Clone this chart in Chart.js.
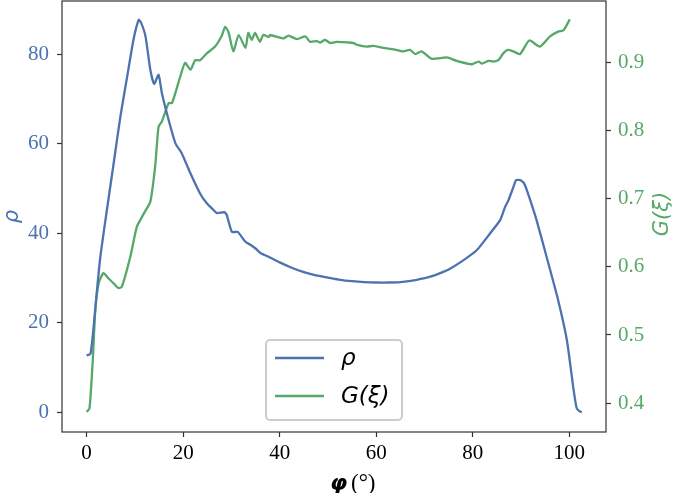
<!DOCTYPE html>
<html>
<head>
<meta charset="utf-8">
<script src="https://cdn.jsdelivr.net/npm/chart.js@4.4.0/dist/chart.umd.min.js"></script>
<style>
  html, body { margin: 0; padding: 0; background: #fff; }
  #wrap { width: 685px; height: 493px; }
</style>
</head>
<body>
<div id="wrap"><canvas id="chart" width="685" height="493"></canvas></div>
<script>
// phi (deg) and rho
const rhoX = [0.0, 0.8, 1.45, 2.15, 2.84, 4.2, 5.6, 7.0, 8.4, 9.7, 10.8, 11.3, 12.2, 13.2, 14.0, 14.9, 15.6, 17.0, 18.4, 19.7,
  21.5, 23.5, 24.9, 26.3, 27.0, 28.5, 29.0, 30.1, 31.3, 32.9, 34.0, 35.0, 36.0, 38.0, 40.0, 42.5, 45.0, 47.5, 50.0,
  52.5, 55.0, 57.5, 60.0, 62.5, 65.0, 67.5, 70.0, 71.2, 73.0, 75.3, 78.1, 80.8, 83.6, 85.7, 86.7, 87.4, 88.3, 89.0, 90.0,
  90.8, 91.9, 93.2, 95.3, 97.7, 99.5, 100.8, 101.5, 102.0, 102.6];
const rhoY = [12.7, 13.1, 19.1, 27.3, 34.7, 45.2, 55.6, 66.1, 75.0, 83.2, 87.7, 87.0, 84.0, 76.5, 73.4, 75.4, 71.3, 65.3, 60.1, 57.9,
  53.4, 48.9, 46.7, 45.2, 44.5, 44.7, 44.2, 40.3, 40.3, 38.1, 37.4, 36.6, 35.6, 34.6, 33.5, 32.3, 31.3, 30.6, 30.1,
  29.6, 29.3, 29.1, 29.0, 29.0, 29.1, 29.4, 30.0, 30.3, 31.0, 32.1, 34.0, 36.2, 40.0, 43.0, 45.9, 47.4, 50.0, 51.9, 51.8,
  50.8, 47.4, 43.0, 34.7, 25.0, 16.1, 5.7, 1.0, 0.3, 0.0];

// phi (deg) and G(xi)
const gX = [0.0, 0.6, 1.3, 1.8, 2.5, 3.5, 4.55, 5.6, 6.6, 7.3, 9.05, 10.4, 11.5, 12.3, 13.2, 14.2, 14.9, 15.6, 17.0, 17.7,
  19.4, 20.4, 21.5, 22.5, 23.5, 24.9, 26.6, 28.0, 28.7, 29.4, 30.4, 31.5, 32.9, 33.5, 34.2, 34.9, 35.9, 36.6, 37.7, 38.0,
  40.8, 41.8, 43.6, 45.3, 46.3, 47.7, 48.4, 49.4, 50.5, 51.8, 54.2, 55.3, 56.3, 58.0, 59.4, 61.5, 63.6, 65.6, 67.0, 68.1,
  69.4, 71.5, 74.6, 76.7, 79.8, 81.2, 81.9, 83.2, 84.3, 85.3, 86.3, 87.2, 88.4, 89.8, 91.7, 93.9, 96.0, 97.7, 98.8, 100.1];
const gY = [0.387, 0.392, 0.466, 0.537, 0.576, 0.591, 0.583, 0.576, 0.569, 0.571, 0.615, 0.659, 0.674, 0.684, 0.696, 0.748, 0.806, 0.814, 0.841, 0.841,
  0.880, 0.900, 0.890, 0.904, 0.904, 0.914, 0.924, 0.940, 0.953, 0.945, 0.917, 0.941, 0.922, 0.944, 0.934, 0.944, 0.931, 0.941, 0.938, 0.941,
  0.936, 0.940, 0.935, 0.939, 0.931, 0.932, 0.930, 0.934, 0.929, 0.931, 0.930, 0.929, 0.926, 0.924, 0.925, 0.922, 0.920, 0.917, 0.919, 0.913,
  0.917, 0.906, 0.908, 0.903, 0.898, 0.902, 0.899, 0.903, 0.902, 0.904, 0.914, 0.919, 0.917, 0.913, 0.933, 0.924, 0.939, 0.946, 0.948, 0.964];

const xTicks = [0, 20, 40, 60, 80, 100];
const rhoTicks = [0, 20, 40, 60, 80];
const gTicks = [0.4, 0.5, 0.6, 0.7, 0.8, 0.9];

const BLUE = '#4c72b0';
const GREEN = '#55a868';
const AXIS = '#333333';
const serif = "'Liberation Serif', 'Times New Roman', serif";
const sans = "'DejaVu Sans', sans-serif";

const toPoints = (xs, ys) => xs.map((x, i) => ({ x: x, y: ys[i] }));

// fixed axis sizes so the plot area sits where the reference has it
const fitY = w => s => { s.width = w; s.paddingTop = 0; s.paddingBottom = 0; };
const fitX = h => s => { s.height = h; s.paddingLeft = 0; s.paddingRight = 0; };

// frame, legend, right title and x title drawn on top
const extras = {
    id: 'extras',
    afterDraw(chart) {
        const ctx = chart.ctx;
        const a = chart.chartArea;
        ctx.save();
        ctx.strokeStyle = AXIS;
        ctx.lineWidth = 1.2;
        ctx.strokeRect(a.left, a.top, a.right - a.left, a.bottom - a.top);

        // legend
        const bx = 266, by = 340, bw = 136, bh = 80;
        ctx.fillStyle = 'rgba(255,255,255,0.85)';
        ctx.strokeStyle = '#cccccc';
        ctx.lineWidth = 2;
        ctx.beginPath();
        ctx.roundRect(bx, by, bw, bh, 4);
        ctx.fill();
        ctx.stroke();
        const rows = [358, 396];
        chart.data.datasets.forEach((ds, i) => {
            ctx.strokeStyle = ds.borderColor;
            ctx.lineWidth = 2.3;
            ctx.beginPath();
            ctx.moveTo(275, rows[i]);
            ctx.lineTo(324, rows[i]);
            ctx.stroke();
            ctx.fillStyle = '#000';
            ctx.font = 'italic 23px ' + sans;
            ctx.textBaseline = 'middle';
            ctx.textAlign = 'left';
            ctx.fillText(ds.label, 341, rows[i] + 1);
        });

        // right axis title, reading bottom to top
        ctx.save();
        ctx.translate(663, 214);
        ctx.rotate(-Math.PI / 2);
        ctx.fillStyle = GREEN;
        ctx.font = 'italic 21px ' + sans;
        ctx.textAlign = 'center';
        ctx.textBaseline = 'middle';
        ctx.fillText('G(ξ)', 0, 0);
        ctx.restore();

        // x axis title
        ctx.fillStyle = '#000';
        ctx.textAlign = 'left';
        ctx.textBaseline = 'alphabetic';
        ctx.font = 'bold italic 22px ' + sans;
        ctx.fillText('φ', 330, 490);
        ctx.font = '23px ' + serif;
        ctx.fillText('(°)', 351, 490);
        ctx.restore();
    }
};

new Chart(document.getElementById('chart'), {
    type: 'line',
    data: {
        datasets: [{
            label: 'ρ',
            data: toPoints(rhoX, rhoY),
            borderColor: BLUE,
            borderWidth: 2.3,
            pointRadius: 0,
            tension: 0.2,
            yAxisID: 'y'
        }, {
            label: 'G(ξ)',
            data: toPoints(gX, gY),
            borderColor: GREEN,
            borderWidth: 2.3,
            pointRadius: 0,
            tension: 0.2,
            yAxisID: 'y1'
        }]
    },
    plugins: [extras],
    options: {
        responsive: false,
        animation: false,
        layout: { padding: { top: 1, left: 0, right: 0, bottom: 0 } },
        plugins: {
            legend: { display: false },
            tooltip: { enabled: false }
        },
        scales: {
            x: {
                type: 'linear',
                min: -5.1,
                max: 107.6,
                afterBuildTicks: s => { s.ticks = xTicks.map(v => ({ value: v })); },
                afterFit: fitX(61),
                grid: { drawOnChartArea: false, tickLength: 5, color: AXIS, tickWidth: 1.2 },
                border: { display: false },
                ticks: { color: '#000', font: { family: serif, size: 21 }, padding: 4, maxRotation: 0 }
            },
            y: {
                position: 'left',
                min: -4.4,
                max: 91.9,
                afterBuildTicks: s => { s.ticks = rhoTicks.map(v => ({ value: v })); },
                afterFit: fitY(62),
                grid: { drawOnChartArea: false, tickLength: 5, color: AXIS, tickWidth: 1.2 },
                border: { display: false },
                title: { display: true, text: 'ρ', color: BLUE, font: { family: sans, style: 'italic', size: 21 }, padding: 0 },
                ticks: { color: BLUE, font: { family: serif, size: 21 }, padding: 8 }
            },
            y1: {
                position: 'right',
                min: 0.3574,
                max: 0.991,
                afterBuildTicks: s => { s.ticks = gTicks.map(v => ({ value: v })); },
                afterFit: fitY(79),
                grid: { drawOnChartArea: false, tickLength: 5, color: AXIS, tickWidth: 1.2 },
                border: { display: false },
                ticks: { color: GREEN, font: { family: serif, size: 21 }, padding: 7, callback: v => v.toFixed(1) }
            }
        }
    }
});
</script>
</body>
</html>
